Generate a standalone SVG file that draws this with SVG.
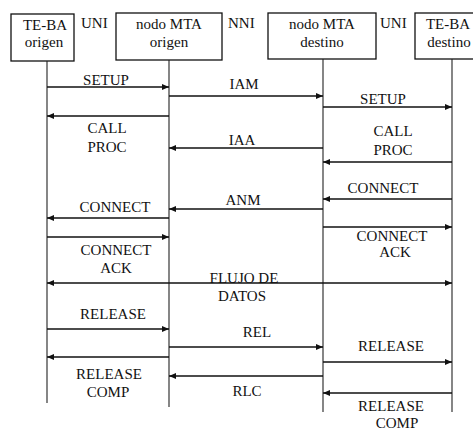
<svg xmlns="http://www.w3.org/2000/svg" width="473" height="430" viewBox="0 0 473 430" font-family="'Liberation Serif', 'DejaVu Serif', serif" font-size="15">
<style>
text{fill:#111;text-anchor:middle}
.s{text-anchor:start}
.box{fill:#fff;stroke:#111;stroke-width:1.3}
.life{stroke:#222;stroke-width:1.1;fill:none}
.msg{stroke:#111;stroke-width:1.5;fill:none;marker-end:url(#ah)}
.both{marker-start:url(#ahs)}
</style>
<defs>
<marker id="ah" markerUnits="userSpaceOnUse" markerWidth="8" markerHeight="6" refX="7" refY="3" orient="auto"><path d="M0,0 L7,3 L0,6 z" fill="#111"/></marker>
<marker id="ahs" markerUnits="userSpaceOnUse" markerWidth="8" markerHeight="6" refX="0" refY="3" orient="auto"><path d="M7,0 L0,3 L7,6 z" fill="#111"/></marker>
</defs>
<g id="te-ba-origen"><rect class="box" x="11" y="14" width="63" height="47"/><text x="45" y="30">TE-BA</text><text x="44" y="47">origen</text></g>
<g id="nodo-mta-origen"><rect class="box" x="116" y="13" width="106" height="47"/><text x="169" y="29">nodo MTA</text><text x="169" y="47">origen</text></g>
<g id="nodo-mta-destino"><rect class="box" x="268" y="13" width="108" height="46"/><text x="322" y="29">nodo MTA</text><text x="322" y="47">destino</text></g>
<g id="te-ba-destino"><rect class="box" x="415" y="13" width="60" height="46"/><text x="448" y="29">TE-BA</text><text x="449" y="47">destino</text></g>
<g id="interfaces"><text class="s" x="81" y="28">UNI</text><text class="s" x="228" y="28">NNI</text><text class="s" x="380" y="28">UNI</text></g>
<g id="connectors">
<line class="life" x1="47" y1="61" x2="47" y2="403"/>
<line class="life" x1="169" y1="60" x2="169" y2="407"/>
<line class="life" x1="323" y1="59" x2="323" y2="412"/>
<line class="life" x1="452" y1="59" x2="452" y2="412"/>
<line class="msg" x1="47" y1="87" x2="169" y2="87"/>
<line class="msg" x1="169" y1="116" x2="47" y2="116"/>
<line class="msg" x1="169" y1="96" x2="323" y2="96"/>
<line class="msg" x1="323" y1="107" x2="452" y2="107"/>
<line class="msg" x1="323" y1="148" x2="169" y2="148"/>
<line class="msg" x1="452" y1="162" x2="323" y2="162"/>
<line class="msg" x1="452" y1="199" x2="323" y2="199"/>
<line class="msg" x1="323" y1="209" x2="169" y2="209"/>
<line class="msg" x1="169" y1="218" x2="47" y2="218"/>
<line class="msg" x1="323" y1="227" x2="452" y2="227"/>
<line class="msg" x1="47" y1="237" x2="169" y2="237"/>
<line class="msg both" x1="47" y1="283" x2="452" y2="283"/>
<line class="msg" x1="47" y1="329" x2="169" y2="329"/>
<line class="msg" x1="169" y1="347" x2="323" y2="347"/>
<line class="msg" x1="169" y1="357" x2="47" y2="357"/>
<line class="msg" x1="323" y1="362" x2="452" y2="362"/>
<line class="msg" x1="323" y1="376" x2="169" y2="376"/>
<line class="msg" x1="452" y1="393" x2="323" y2="393"/>
</g>
<g id="labels">
<text x="106" y="85">SETUP</text>
<text x="244" y="89">IAM</text>
<text x="383" y="104">SETUP</text>
<text x="107" y="133">CALL</text><text x="107" y="152">PROC</text>
<text x="242" y="145">IAA</text>
<text x="393" y="136">CALL</text><text x="393" y="155">PROC</text>
<text x="383" y="193">CONNECT</text>
<text x="243" y="205">ANM</text>
<text x="115" y="212">CONNECT</text>
<text x="392" y="241">CONNECT</text><text x="395" y="257">ACK</text>
<text x="116" y="255">CONNECT</text><text x="116" y="273">ACK</text>
<text x="244" y="283">FLUJO DE</text>
<text x="242" y="301">DATOS</text>
<text x="113" y="319">RELEASE</text>
<text x="257" y="337">REL</text>
<text x="391" y="351">RELEASE</text>
<text x="109" y="379">RELEASE</text><text x="108" y="397">COMP</text>
<text x="247" y="396">RLC</text>
<text x="391" y="411">RELEASE</text><text x="397" y="428">COMP</text>
</g>
</svg>
